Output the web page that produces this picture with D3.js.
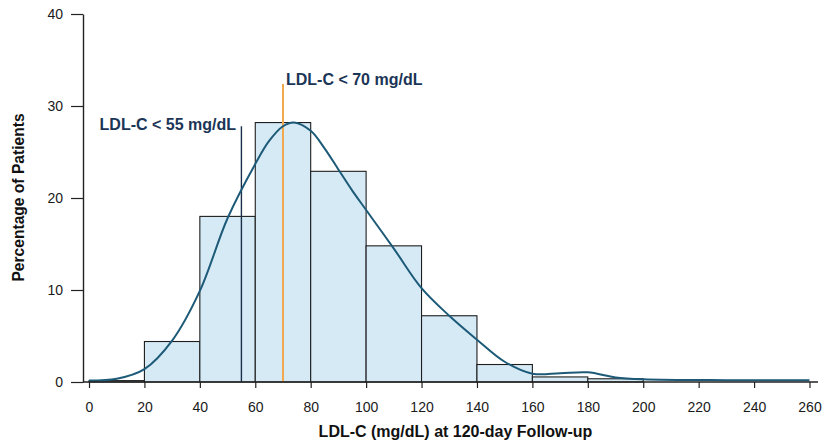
<!DOCTYPE html>
<html>
<head>
<meta charset="utf-8">
<script src="https://cdn.jsdelivr.net/npm/d3@7/dist/d3.min.js"></script>
<style>
  html, body { margin: 0; padding: 0; background: #ffffff; }
  svg { display: block; }
  text { font-family: "Liberation Sans", Arial, Helvetica, sans-serif; }
</style>
</head>
<body>
<svg id="chart" width="829" height="445"></svg>
<script>
// ---- Data ----
const binStarts = [0, 20, 40, 60, 80, 100, 120, 140, 160, 180];
const binWidth = 20;
const binPercents = [0.15, 4.4, 18.0, 28.2, 22.9, 14.8, 7.2, 1.9, 0.55, 0.35];

const densityX = [0, 10, 20, 30, 40, 50, 60, 65, 70, 74, 80, 85, 90, 95, 100, 110, 120, 130, 140, 150, 160, 170, 180, 190, 200, 230, 260];
const densityY = [0.15, 0.35, 1.4, 4.5, 9.9, 17.8, 23.7, 26.2, 27.8, 28.2, 27.3, 25.4, 23.1, 20.8, 18.7, 14.5, 10.2, 7.2, 4.6, 2.2, 0.9, 0.95, 1.05, 0.5, 0.3, 0.2, 0.2];

const xTicks = [0, 20, 40, 60, 80, 100, 120, 140, 160, 180, 200, 220, 240, 260];
const yTicks = [0, 10, 20, 30, 40];

const refLines = [
  { value: 55, top: 27.8, label: "LDL-C < 55 mg/dL", color: "#1a2f4a", anchor: "end" },
  { value: 70, top: 32.4, label: "LDL-C < 70 mg/dL", color: "#f2a94e", anchor: "start" }
];

const xTitle = "LDL-C (mg/dL) at 120-day Follow-up";
const yTitle = "Percentage of Patients";

// ---- Scales ----
const svg = d3.select("#chart");
const x = d3.scaleLinear().domain([0, 260]).range([89, 809.5]);
const y = d3.scaleLinear().domain([0, 40]).range([382, 14]);
const axisX0 = 83;

// ---- Bars ----
svg.append("g").selectAll("rect")
  .data(binStarts.map((s, i) => ({ s, v: binPercents[i] })))
  .join("rect")
  .attr("x", d => x(d.s))
  .attr("y", d => y(d.v))
  .attr("width", d => x(d.s + binWidth) - x(d.s))
  .attr("height", d => y(0) - y(d.v))
  .attr("fill", "#d6eaf6")
  .attr("stroke", "#1e1e1e")
  .attr("stroke-width", 1.1);

// ---- Reference lines ----
refLines.forEach(r => {
  svg.append("line")
    .attr("x1", x(r.value)).attr("x2", x(r.value))
    .attr("y1", y(0)).attr("y2", y(r.top))
    .attr("stroke", r.color)
    .attr("stroke-width", r.anchor === "start" ? 2 : 1.4);
});

// ---- Density curve ----
const line = d3.line()
  .x((d, i) => x(densityX[i]))
  .y(d => y(d))
  .curve(d3.curveCatmullRom.alpha(0.5));
svg.append("path")
  .datum(densityY)
  .attr("d", line)
  .attr("fill", "none")
  .attr("stroke", "#1d5a78")
  .attr("stroke-width", 2);

// ---- Axes ----
const gx = svg.append("g")
  .attr("transform", `translate(0,${y(0)})`)
  .call(d3.axisBottom(x).tickValues(xTicks).tickSize(6).tickPadding(14).tickFormat(d3.format("d")));
gx.select(".domain").remove();
gx.selectAll(".tick line").attr("stroke", "#222").attr("stroke-width", 1.2);
gx.selectAll(".tick text").attr("font-size", 14).attr("fill", "#1a1a1a")
  .style("font-family", "'Liberation Sans', Arial, sans-serif");
svg.append("line")
  .attr("x1", axisX0).attr("x2", 818)
  .attr("y1", y(0)).attr("y2", y(0))
  .attr("stroke", "#222").attr("stroke-width", 1.4);

const gy = svg.append("g")
  .attr("transform", `translate(${axisX0},0)`)
  .call(d3.axisLeft(y).tickValues(yTicks).tickSize(12).tickSizeOuter(0).tickPadding(8));
gy.select(".domain").attr("stroke", "#222").attr("stroke-width", 1.4);
gy.selectAll(".tick line").attr("stroke", "#222").attr("stroke-width", 1.2);
gy.selectAll(".tick text").attr("font-size", 14).attr("fill", "#1a1a1a")
  .style("font-family", "'Liberation Sans', Arial, sans-serif");

// ---- Reference labels ----
svg.append("text")
  .attr("x", 236).attr("y", 130)
  .attr("text-anchor", "end")
  .attr("font-size", 16).attr("font-weight", "bold")
  .attr("fill", "#1b3556")
  .text(refLines[0].label);
svg.append("text")
  .attr("x", 286).attr("y", 85)
  .attr("text-anchor", "start")
  .attr("font-size", 16).attr("font-weight", "bold")
  .attr("fill", "#1b3556")
  .text(refLines[1].label);

// ---- Axis titles ----
svg.append("text")
  .attr("x", 455.5).attr("y", 437)
  .attr("text-anchor", "middle")
  .attr("font-size", 16).attr("font-weight", "bold")
  .attr("fill", "#111")
  .text(xTitle);
svg.append("text")
  .attr("transform", "translate(24,197.5) rotate(-90)")
  .attr("text-anchor", "middle")
  .attr("font-size", 15.6).attr("font-weight", "bold")
  .attr("fill", "#111")
  .text(yTitle);
</script>
</body>
</html>
